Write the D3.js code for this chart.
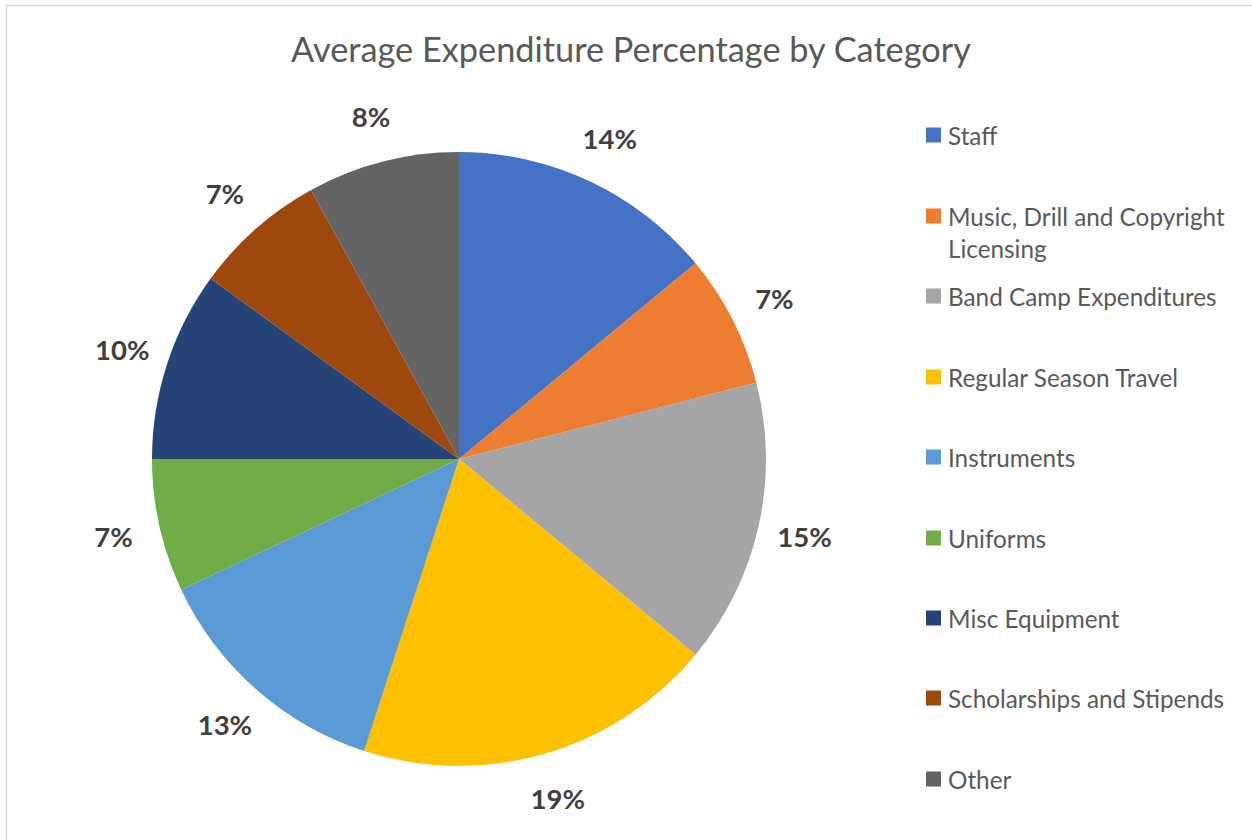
<!DOCTYPE html>
<html>
<head>
<meta charset="utf-8">
<script src="https://cdn.jsdelivr.net/npm/d3@7"></script>
<style>
  html, body { margin: 0; padding: 0; background: #fff; }
  svg { display: block; }
</style>
</head>
<body>
<svg id="chart" width="1252" height="840"></svg>
<script>
// Expenditure categories and their average share (percent)
const categories = [
  "Staff",
  "Music, Drill and Copyright Licensing",
  "Band Camp Expenditures",
  "Regular Season Travel",
  "Instruments",
  "Uniforms",
  "Misc Equipment",
  "Scholarships and Stipends",
  "Other"
];
const values = [14, 7, 15, 19, 13, 7, 10, 7, 8];
const colors = [
  "#4472C4", "#ED7D31", "#A5A5A5", "#FFC000", "#5B9BD5",
  "#70AD47", "#264478", "#9E480E", "#636363"
];
// Legend text split into display lines
const legendLines = [
  ["Staff"],
  ["Music, Drill and Copyright", "Licensing"],
  ["Band Camp Expenditures"],
  ["Regular Season Travel"],
  ["Instruments"],
  ["Uniforms"],
  ["Misc Equipment"],
  ["Scholarships and Stipends"],
  ["Other"]
];

const svg = d3.select("#chart");
const font = "Lato, 'Open Sans', sans-serif";

// chart area frame
svg.append("path")
  .attr("d", "M6.5,840 V5.5 H1252")
  .attr("fill", "none")
  .attr("stroke", "#D9D9D9")
  .attr("stroke-width", 1.5);

// title
svg.append("text")
  .attr("x", 631).attr("y", 62)
  .attr("text-anchor", "middle")
  .attr("font-family", font)
  .attr("font-size", 34.3)
  .attr("fill", "#595959")
  .text("Average Expenditure Percentage by Category");

const cx = 459, cy = 459, radius = 307;
const data = categories.map((c, i) => ({ name: c, value: values[i], color: colors[i] }));

const pie = d3.pie().sort(null).value(d => d.value);
const arcs = pie(data);
const arc = d3.arc().innerRadius(0).outerRadius(radius);
const labelArc = d3.arc().innerRadius(354).outerRadius(354);

const g = svg.append("g").attr("transform", `translate(${cx},${cy})`);

g.selectAll("path.slice")
  .data(arcs)
  .join("path")
  .attr("class", "slice")
  .attr("d", arc)
  .attr("fill", d => d.data.color);

g.selectAll("text.pct")
  .data(arcs)
  .join("text")
  .attr("class", "pct")
  .attr("transform", d => `translate(${labelArc.centroid(d)})`)
  .attr("text-anchor", "middle")
  .attr("dominant-baseline", "central")
  .attr("font-family", font)
  .attr("font-weight", "bold")
  .attr("font-size", 27.5)
  .attr("fill", "#404040")
  .text(d => d3.format(".0f")(d.data.value) + "%");

// legend
const legendY = [135, 216, 296, 377, 457, 538, 618, 698, 779];
const legend = svg.append("g");
const items = legend.selectAll("g.item")
  .data(data)
  .join("g")
  .attr("class", "item")
  .attr("transform", (d, i) => `translate(926,${legendY[i]})`);

items.append("rect")
  .attr("x", 0).attr("y", -7.5)
  .attr("width", 15).attr("height", 15)
  .attr("fill", d => d.color);

items.each(function(d, i) {
  const t = d3.select(this).append("text")
    .attr("font-family", font)
    .attr("font-size", 24.3)
    .attr("fill", "#595959");
  legendLines[i].forEach((line, k) => {
    t.append("tspan")
      .attr("x", 22)
      .attr("y", k * 32)
      .attr("dominant-baseline", "central")
      .text(line);
  });
});
</script>
</body>
</html>
